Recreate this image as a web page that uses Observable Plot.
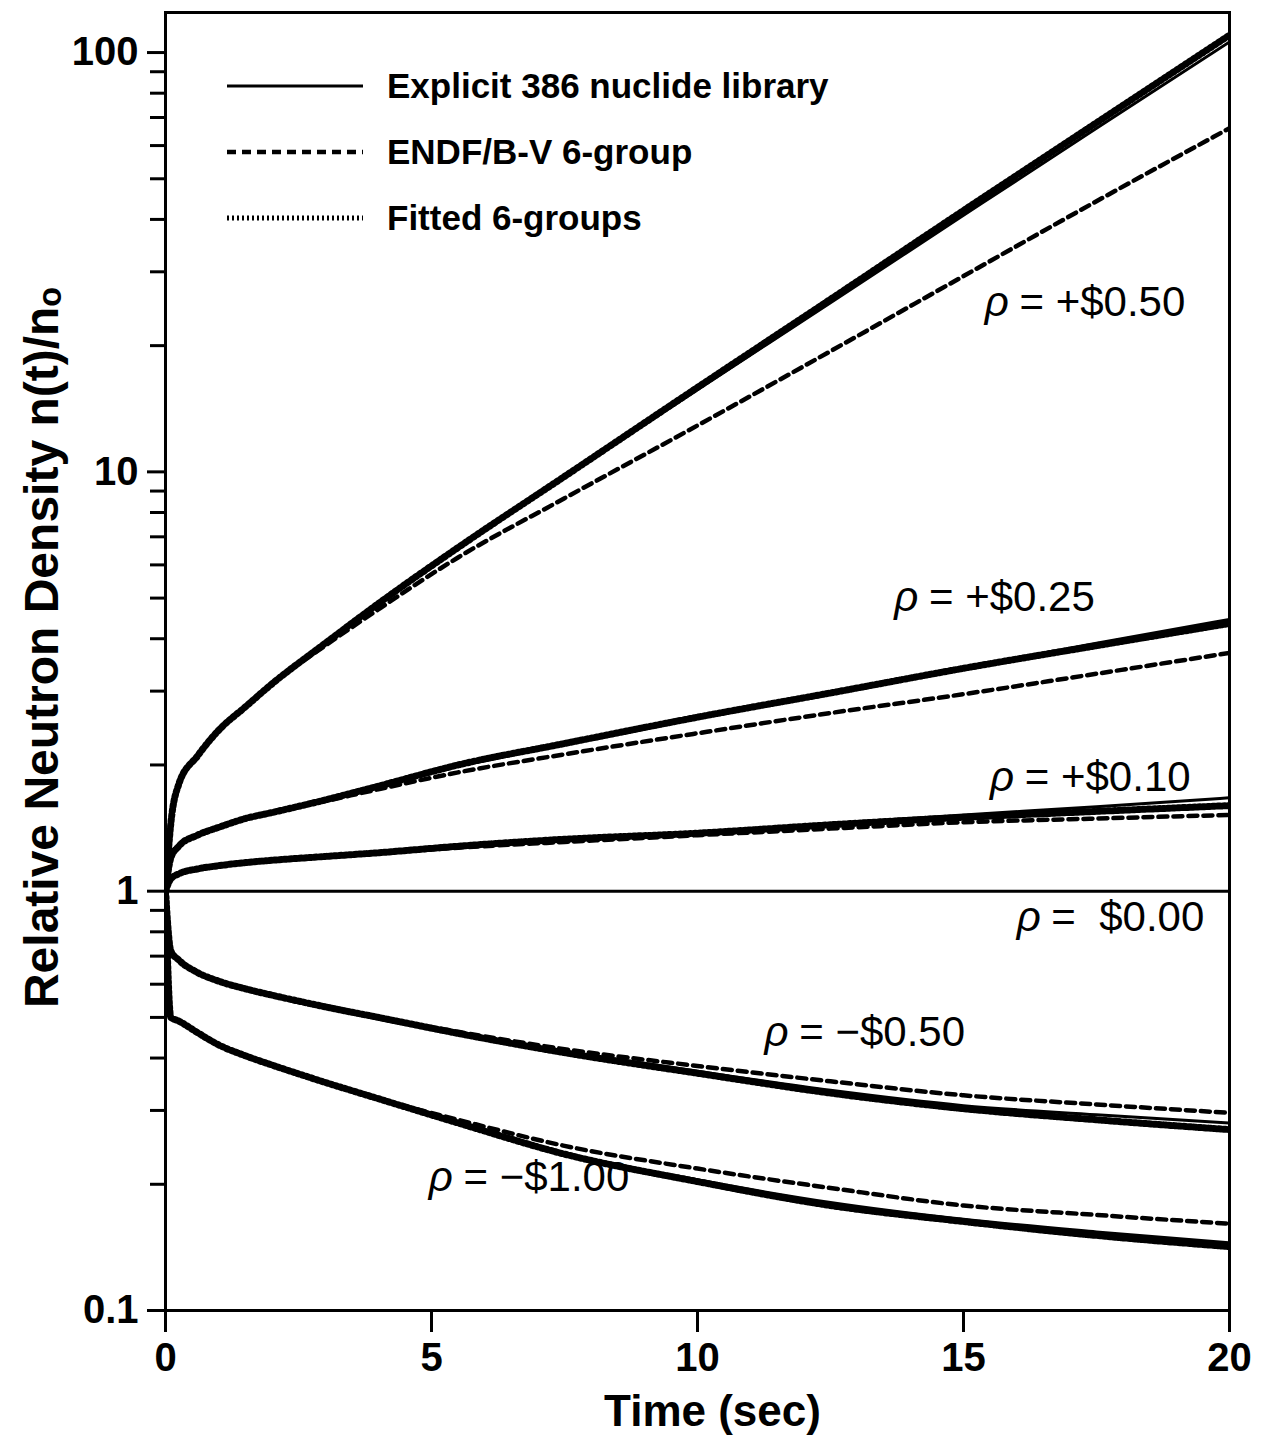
<!DOCTYPE html>
<html><head><meta charset="utf-8">
<script src="https://cdn.jsdelivr.net/npm/d3@7"></script>
<script src="https://cdn.jsdelivr.net/npm/@observablehq/plot@0.6"></script>
<style>
html,body{margin:0;padding:0;background:#fff;}
#wrap{position:relative;width:1265px;height:1455px;overflow:hidden;}
svg text{white-space:pre;}
#legend{position:absolute;left:227px;top:53px;font-family:"Liberation Sans",Arial,sans-serif;font-weight:bold;font-size:35px;color:#000;}
#legend .row{display:flex;align-items:center;height:66px;}
#legend svg{margin-right:24px;}
</style></head><body><div id="wrap"></div>
<script>
// ---- data ----
const time = [0, 0.1, 0.25, 0.6, 1, 1.5, 2, 3, 4, 5.5, 7.5, 10, 12.5, 15, 17.5, 20];

const cases = ["+$0.50", "+$0.25", "+$0.10", "$0.00", "−$0.50", "−$1.00"];

// Explicit 386 nuclide library
const explicitP050 = [1, 1.45, 1.8, 2.1, 2.42, 2.75, 3.12, 3.9, 4.85, 6.6, 9.7, 15.7, 25.3, 40.9, 66, 106];
const explicitP025 = [1, 1.2, 1.28, 1.36, 1.42, 1.49, 1.54, 1.65, 1.78, 2.0, 2.25, 2.6, 2.98, 3.42, 3.9, 4.45];
const explicitP010 = [1, 1.07, 1.1, 1.13, 1.15, 1.17, 1.185, 1.21, 1.235, 1.28, 1.33, 1.38, 1.45, 1.52, 1.59, 1.67];
const explicitZero = [1, 1, 1, 1, 1, 1, 1, 1, 1, 1, 1, 1, 1, 1, 1, 1];
const explicitM050 = [1, 0.72, 0.685, 0.64, 0.61, 0.585, 0.565, 0.53, 0.5, 0.46, 0.415, 0.372, 0.335, 0.308, 0.293, 0.28];
const explicitM100 = [1, 0.5, 0.49, 0.46, 0.43, 0.405, 0.385, 0.35, 0.32, 0.282, 0.238, 0.205, 0.181, 0.165, 0.154, 0.145];

// ENDF/B-V 6-group
const endfP050 = [1, 1.45, 1.8, 2.1, 2.42, 2.75, 3.12, 3.85, 4.7, 6.25, 8.65, 12.9, 19.4, 29.3, 44.2, 66];
const endfP025 = [1, 1.2, 1.28, 1.36, 1.42, 1.49, 1.54, 1.64, 1.75, 1.92, 2.12, 2.38, 2.66, 2.95, 3.3, 3.7];
const endfP010 = [1, 1.07, 1.1, 1.13, 1.15, 1.17, 1.185, 1.21, 1.232, 1.27, 1.31, 1.36, 1.41, 1.46, 1.49, 1.52];
const endfM050 = [1, 0.72, 0.685, 0.64, 0.61, 0.585, 0.565, 0.53, 0.5, 0.462, 0.42, 0.383, 0.352, 0.326, 0.31, 0.296];
const endfM100 = [1, 0.5, 0.49, 0.46, 0.43, 0.405, 0.385, 0.35, 0.32, 0.285, 0.247, 0.218, 0.196, 0.178, 0.169, 0.161];

// Fitted 6-groups
const fittedP050 = [1, 1.45, 1.8, 2.1, 2.42, 2.75, 3.12, 3.9, 4.85, 6.6, 9.75, 15.9, 25.8, 42, 68, 110];
const fittedP025 = [1, 1.2, 1.28, 1.36, 1.42, 1.49, 1.54, 1.65, 1.78, 2.0, 2.25, 2.6, 2.97, 3.4, 3.85, 4.35];
const fittedP010 = [1, 1.07, 1.1, 1.13, 1.15, 1.17, 1.185, 1.21, 1.235, 1.28, 1.33, 1.375, 1.44, 1.50, 1.55, 1.60];
const fittedM050 = [1, 0.72, 0.685, 0.64, 0.61, 0.585, 0.565, 0.53, 0.5, 0.458, 0.412, 0.368, 0.33, 0.303, 0.285, 0.27];
const fittedM100 = [1, 0.5, 0.49, 0.46, 0.43, 0.405, 0.385, 0.35, 0.32, 0.28, 0.236, 0.203, 0.178, 0.163, 0.151, 0.142];

const methods = ["Explicit 386 nuclide library", "ENDF/B-V 6-group", "Fitted 6-groups"];

// reactivity labels
const labelCase = ["+$0.50", "+$0.25", "+$0.10", "$0.00", "−$0.50", "−$1.00"];
const labelText = [" = +$0.50", " = +$0.25", " = +$0.10", " =  $0.00", " = −$0.50", " = −$1.00"];
const labelT = [15.4, 13.7, 15.5, 16.0, 11.26, 4.95];
const labelN = [25.4, 5.02, 1.87, 0.867, 0.461, 0.208];

const xTicks = [0, 5, 10, 15, 20];
const yTicks = [0.1, 1, 10, 100];
const yMinor = [0.2,0.3,0.4,0.5,0.6,0.7,0.8,0.9,2,3,4,5,6,7,8,9,20,30,40,50,60,70,80,90];
const xLabel = "Time (sec)";
const yLabel = "Relative Neutron Density n(t)/nₒ";

// ---- build table ----
const seriesByMethod = {
  [methods[0]]: [explicitP050, explicitP025, explicitP010, explicitZero, explicitM050, explicitM100],
  [methods[1]]: [endfP050, endfP025, endfP010, null, endfM050, endfM100],
  [methods[2]]: [fittedP050, fittedP025, fittedP010, null, fittedM050, fittedM100]
};
const rows = [];
for (const m of methods) {
  seriesByMethod[m].forEach((arr, ci) => {
    if (!arr) return;
    arr.forEach((v, i) => rows.push({t: time[i], n: v, c: cases[ci], m}));
  });
}
const styles = {
  [methods[0]]: {strokeWidth: 3, dash: null},
  [methods[1]]: {strokeWidth: 4.5, dash: "9,6"},
  [methods[2]]: {strokeWidth: 7, dash: "2,3"}
};
const labels = labelCase.map((c, i) => ({c, t: labelT[i], n: labelN[i], text: labelText[i]}));

const lineFor = (m) => Plot.line(rows.filter(d => d.m === m), {
  x: "t", y: "n", z: "c", stroke: "black", curve: "monotone-x",
  strokeWidth: styles[m].strokeWidth, strokeDasharray: styles[m].dash,
  strokeLinejoin: "round", clip: true
});

const chart = Plot.plot({
  width: 1265, height: 1455,
  marginLeft: 165, marginRight: 36, marginTop: 12, marginBottom: 145,
  style: {fontFamily: "'Liberation Sans', Arial, sans-serif", background: "white", color: "black", overflow: "visible"},
  x: {domain: [0, 20]},
  y: {type: "log", domain: [0.1, 124.6]},
  marks: [
    lineFor(methods[2]),
    lineFor(methods[1]),
    lineFor(methods[0]),
    Plot.frame({strokeWidth: 3}),
    Plot.axisY({ticks: yMinor, tickSize: 15, tickFormat: () => "", strokeWidth: 3, label: null}),
    Plot.axisY({ticks: yTicks, tickSize: 18, tickPadding: 9, tickFormat: d => d3.format("~g")(d), strokeWidth: 3, fontSize: 40, fontWeight: "bold", label: null}),
    Plot.axisX({ticks: xTicks, tickSize: 22, tickPadding: 10, strokeWidth: 3, fontSize: 40, fontWeight: "bold", label: null}),
    Plot.text([xLabel], {frameAnchor: "bottom", text: d => d, dy: 115, dx: 15, fontSize: 44, fontWeight: "bold"}),
    Plot.text([yLabel], {frameAnchor: "left", textAnchor: "middle", text: d => d, rotate: -90, dx: -123, dy: -14, fontSize: 48, fontWeight: "bold"}),
    Plot.text(labels, {x: "t", y: "n", text: () => "ρ", textAnchor: "start", fontSize: 42, fontStyle: "italic"}),
    Plot.text(labels, {x: "t", y: "n", text: "text", textAnchor: "start", dx: 23, fontSize: 42})
  ]
});
document.getElementById("wrap").appendChild(chart);

// legend (inside the frame, top-left)
const legend = d3.select("#wrap").append("div").attr("id", "legend");
methods.forEach(m => {
  const row = legend.append("div").attr("class", "row");
  const s = row.append("svg").attr("width", 136).attr("height", 20);
  s.append("line").attr("x1", 0).attr("x2", 136).attr("y1", 10).attr("y2", 10)
    .attr("stroke", "black").attr("stroke-width", Math.min(styles[m].strokeWidth, 5))
    .attr("stroke-dasharray", styles[m].dash);
  row.append("span").text(m);
});
</script></body></html>
